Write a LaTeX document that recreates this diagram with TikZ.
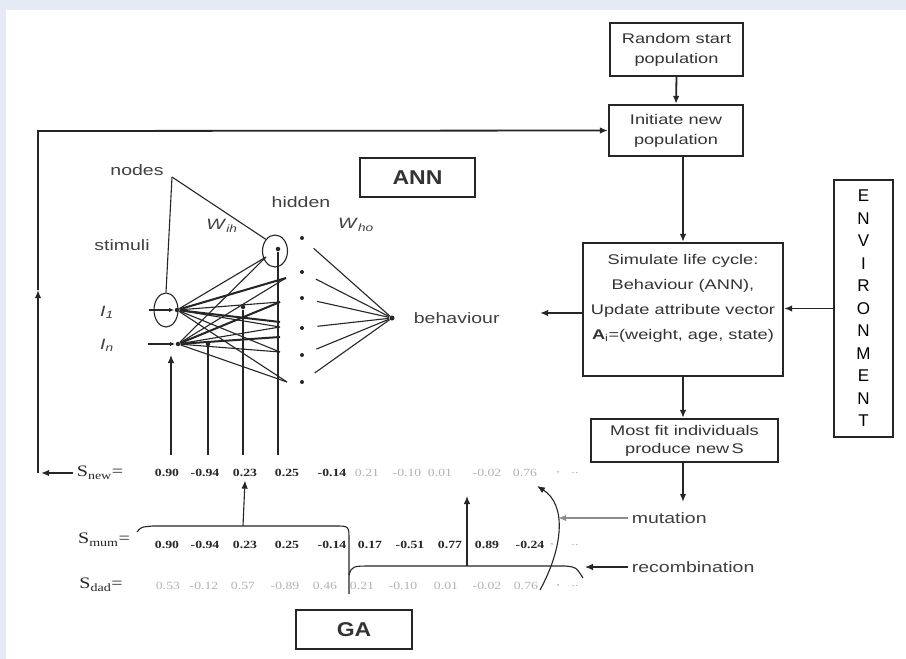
\documentclass[tikz,border=0pt]{standalone}
\usepackage{fontspec}
\usepackage{tikz}
\usetikzlibrary{positioning}
\usetikzlibrary{shapes.geometric}
\usetikzlibrary{arrows.meta}
\newfontfamily\boxfont[FakeStretch=1.3]{Liberation Sans}
\newfontfamily\envfont{Liberation Sans}
\newfontfamily\gafont[FakeStretch=1.15]{Liberation Sans}
\newfontfamily\numfont[FakeStretch=1.25]{Liberation Serif}
\definecolor{bgblue}{HTML}{E6EAF4}
\tikzset{
	every node/.style = {font=\boxfont\fontsize{14}{20}\selectfont, text=black!80},
	flowbox/.style = {draw=black!85, line width=2.2pt, align=center, inner sep=0pt},
	dot/.style = {circle, fill=black!85, inner sep=0pt, minimum size=4.5pt},
	numdark/.style = {font=\numfont\bfseries\fontsize{11}{11}\selectfont, text=black!85},
	numlight/.style = {font=\numfont\fontsize{11}{11}\selectfont, text=black!30},
	slabel/.style = {font=\numfont\fontsize{16}{16}\selectfont, text=black!85},
	netlabel/.style = {font=\boxfont\fontsize{15}{15}\selectfont, text=black!75},
	tip/.style = {-{Latex[length=8pt, width=6.5pt]}},
	flowline/.style = {tip, line width=1.8pt}
}
\begin{document}
\begin{tikzpicture}[x=1pt, y=-1pt, line width=1.1pt, draw=black!85]
		\useasboundingbox (0,0) rectangle (906,659);
		\fill[bgblue] (0,0) rectangle (906,659);
		\fill[white] (6,10) rectangle (906,659);

		% flow chart
		\node[flowbox, minimum width=133, minimum height=53] (start) at (676.5,49.5) {Random start\\population};
		\node[flowbox, minimum width=134, minimum height=51] (init) at (676,130.5) {Initiate new\\population};
		\node[flowbox, minimum width=200, minimum height=133, font=\boxfont\fontsize{14}{25}\selectfont] (sim) at (683,309.5)
			{Simulate life cycle:\\Behaviour (ANN),\\Update attribute vector\\\textbf{A}\textsubscript{i}=(weight, age, state)\\~};
		\node[flowbox, minimum width=187, minimum height=43, font=\boxfont\fontsize{14}{18}\selectfont] (fit) at (684.5,440.5) {Most fit individuals\\produce new\,S};
		\node[flowbox, minimum width=59, minimum height=257, font=\envfont\fontsize{17}{22.5}\selectfont, text=black] (env) at (863.5,308.5)
			{E\\N\\V\\I\\R\\O\\N\\M\\E\\N\\T};
		\node[flowbox, minimum width=115, minimum height=39, font=\gafont\bfseries\fontsize{20}{20}\selectfont] (ann) at (417.5,177.5) {ANN};
		\node[flowbox, minimum width=116, minimum height=39, font=\gafont\bfseries\fontsize{20}{20}\selectfont] (ga) at (354,629.5) {GA};

		\draw[flowline] (start.south) -- (init.north);
		\draw[flowline] (init.south -| sim.north) -- (sim.north);
		\draw[flowline] (sim.south) -- (sim.south |- fit.north);
		\coordinate (fitout) at (683,502);
		\draw[flowline] (fit.south -| fitout) -- (fitout);
		\draw[flowline] (env.west) -- (env.west -| sim.east);
		\coordinate (behout) at (540,313);
		\draw[flowline] (sim.west |- behout) -- (behout);

		% mutation, recombination
		\node[anchor=west, netlabel] (mut) at (628,518) {mutation};
		\node[anchor=west, netlabel] (rec) at (628,567) {recombination};
		\coordinate (mutin) at (558,518);
		\coordinate (recin) at (585,567);
		\draw[flowline, black!45] (mut.west) -- (mutin);
		\draw[tip] (rec.west) -- (recin);
		\coordinate (arcA) at (540,590);
		\coordinate (arcB) at (537,486);
		\draw[tip] (arcA) .. controls (563,548) and (567,505) .. (arcB);

		% strings
		\node[slabel] (snew) at (100,473) {S\textsubscript{new}=};
		\node[slabel] (smum) at (104,540) {S\textsubscript{mum}=};
		\node[slabel] (sdad) at (101,585) {S\textsubscript{dad}=};
		\foreach \x/\v in {167/0.90, 205/-0.94, 245/0.23, 287/0.25, 332/-0.14}
			\node[numdark] (new\x) at (\x,473) {\v};
		\foreach \x/\v in {367/0.21, 407/-0.10, 440/0.01, 487/-0.02, 525/0.76, 558/{,}, 575/{..}}
			\node[numlight] (new\x) at (\x,473) {\v};
		\foreach \x/\v in {167/0.90, 205/-0.94, 245/0.23, 287/0.25, 332/-0.14, 370/0.17, 410/-0.51, 450/0.77, 487/0.89, 530/-0.24}
			\node[numdark] (mum\x) at (\x,545) {\v};
		\foreach \x/\v in {552/{,}, 575/{..}}
			\node[numlight] (mum\x) at (\x,545) {\v};
		\foreach \x/\v in {168/0.53, 204/-0.12, 243/0.57, 285/-0.89, 325/0.46, 362/0.21, 403/-0.10, 446/0.01, 487/-0.02, 526/0.76, 558/{,}, 575/{..}}
			\node[numlight] (dad\x) at (\x,586) {\v};

		% braces
		\draw (137,532) .. controls (141,527) .. (153,526) -- (335,526) .. controls (349,526) .. (349,540) -- (349,594);
		\draw (349,575) .. controls (352,566) .. (373,566) -- (565,566) .. controls (576,567) .. (583,578);
		\coordinate (mumtip) at (243,526);
		\coordinate (dadtip) at (467,566);
		\draw[tip] (mumtip) -- (new245.south);
		\draw[tip] (dadtip) -- (467,496);

		% loop back
		\coordinate (lp1) at (38,473);
		\coordinate (lpm) at (38,290);
		\coordinate (lp2) at (38,131);
		\draw[flowline] (snew.west) -- ([xshift=3]lp1);
		\draw[flowline] (lp1) -- (lpm);
		\draw[flowline] (lpm) -- (lp2) -- (init.west);

		% network
		\node[netlabel] (nodes) at (137,170) {nodes};
		\node[netlabel] (hidden) at (301,202) {hidden};
		\node[netlabel] (stim) at (122,245) {stimuli};
		\node[netlabel, anchor=west] (behav) at (410,318) {behaviour};
		\node[netlabel] (wih) at (222,226) {\textit{W}\textsubscript{\textit{ih}}};
		\node[netlabel] (who) at (356,225) {\textit{W}\textsubscript{\textit{ho}}};
		\node[netlabel] (l1) at (107,312) {\textit{I}\textsubscript{\textit{1}}};
		\node[netlabel] (ln) at (107,345) {\textit{I}\textsubscript{\textit{n}}};

		\node[ellipse, draw, minimum width=24, minimum height=34, inner sep=0pt] (scirc) at (166,310) {};
		\node[ellipse, draw, minimum width=25, minimum height=32, inner sep=0pt] (hcirc) at (275,251) {};
		\coordinate (ptr) at (172,177);
		\draw (ptr) -- (scirc.north);
		\draw (ptr) -- (hcirc.north west);

		\node[dot] (i1) at (177,310) {};
		\node[dot] (in) at (178,344) {};
		\node[dot] (hdot) at (278,249) {};
		\coordinate (s1) at (149,310);
		\coordinate (sn) at (148,344);
		\draw[-{Latex[length=5pt, width=4pt]}] (s1) -- (i1);
		\draw[-{Latex[length=5pt, width=4pt]}] (sn) -- (in);

		% input -> hidden
		\foreach \x/\y [count=\k] in {266/257, 286/278, 280/302, 280/327, 280/352, 287/382}
			\coordinate (ht\k) at (\x,\y);
		\foreach \src in {i1, in} \foreach \k in {1,...,6}
			\draw (\src) -- (ht\k);
		\draw[line width=2pt] (i1) -- (ht2);
		\draw[line width=2pt] (in) -- (ht3);
		\draw[line width=2pt] (in) -- (280,337);
		\draw[line width=2pt] (i1) -- (280,322);

		% hidden -> behaviour
		\node[dot, minimum size=5pt] (bnode) at (392,318) {};
		\foreach \y [count=\k] in {238,272,298,328,355,382} {
			\node[dot, minimum size=4pt] (hd\k) at (302,\y) {};
			\draw[shorten <=13pt] (hd\k) -- (bnode);
		}

		% weights from the string
		\coordinate (w1) at (171,455);
		\coordinate (w1e) at (171,355);
		\coordinate (w2) at (208,455);
		\coordinate (w3) at (243,455);
		\coordinate (w4) at (278,455);
		\node[dot] (wd2) at (208,344) {};
		\node[dot] (wd3) at (243,307) {};
		\draw[tip] (w1) -- (w1e);
		\draw (w2) -- (wd2);
		\draw (w3) -- (wd3);
		\draw (w4) -- (hdot);
\end{tikzpicture}
\end{document}
